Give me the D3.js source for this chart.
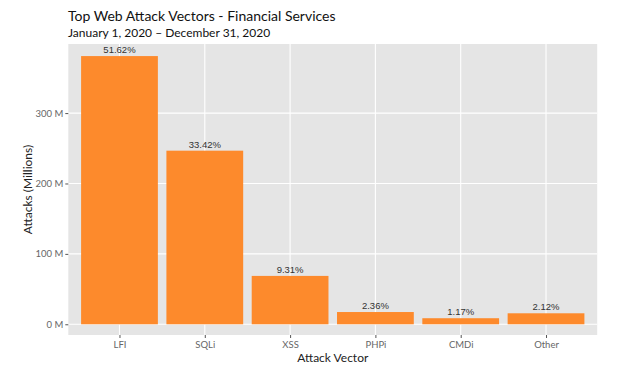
<!DOCTYPE html>
<html><head><meta charset="utf-8">
<script src="https://cdn.jsdelivr.net/npm/d3@7"></script>
<style>
body{margin:0;background:#fff;}
text{font-family:Lato,"Noto Sans",sans-serif;}
</style></head>
<body><svg id="c" width="640" height="376"></svg>
<script>
const categories = ["LFI","SQLi","XSS","PHPi","CMDi","Other"];
const attacksM = [381, 246.6, 68.7, 17.4, 8.6, 15.6];
const pctLabels = ["51.62%","33.42%","9.31%","2.36%","1.17%","2.12%"];
const yTicks = [0,100,200,300];

const svg = d3.select("#c");
const L = 68.3, R = 597.2, T = 44, B = 335;
const maxV = d3.max(attacksM);
const step = (R-L)/(categories.length-1+1.2);
const xc = d3.scalePoint().domain(categories).range([L+0.6*step, R-0.6*step]);
const y = d3.scaleLinear().domain([-0.04*maxV, 1.045*maxV]).range([B,T]);

svg.append("rect").attr("x",L).attr("y",T).attr("width",R-L).attr("height",B-T).attr("fill","#e5e5e5");
svg.append("g").selectAll("line").data(yTicks).join("line")
  .attr("x1",L).attr("x2",R).attr("y1",d=>y(d)).attr("y2",d=>y(d))
  .attr("stroke","#fff").attr("stroke-width",1.1);
svg.append("g").selectAll("line").data(categories).join("line")
  .attr("y1",T).attr("y2",B).attr("x1",d=>xc(d)).attr("x2",d=>xc(d))
  .attr("stroke","#fff").attr("stroke-width",1.1);

const bw = 0.9*step;
svg.append("g").selectAll("rect").data(categories).join("rect")
  .attr("x",d=>xc(d)-bw/2).attr("width",bw)
  .attr("y",(d,i)=>y(attacksM[i])).attr("height",(d,i)=>y(0)-y(attacksM[i]))
  .attr("fill","#fd8a2c");

svg.append("g").selectAll("text").data(categories).join("text")
  .attr("x",d=>xc(d)).attr("y",(d,i)=>y(attacksM[i])-3)
  .attr("text-anchor","middle").attr("font-size",9.5).attr("fill","#333")
  .style("font-family","'Liberation Sans',Arial,sans-serif")
  .text((d,i)=>pctLabels[i]);

// y axis
const ya = svg.append("g").attr("transform",`translate(${L},0)`)
  .call(d3.axisLeft(y).tickValues(yTicks).tickSize(3).tickPadding(2).tickFormat(d=>d+" M"));
ya.select(".domain").remove();
ya.selectAll("line").attr("stroke","#555");
ya.selectAll("text").attr("fill","#666").attr("font-size",9.5).style("font-family","Lato,sans-serif");

// x axis
const xa = svg.append("g").attr("transform",`translate(0,${B})`)
  .call(d3.axisBottom(xc).tickSize(3).tickPadding(3));
xa.select(".domain").remove();
xa.selectAll("line").attr("stroke","#555");
xa.selectAll("text").attr("fill","#666").attr("font-size",9.5).style("font-family","Lato,sans-serif");

svg.append("text").attr("x",(L+R)/2).attr("y",362).attr("text-anchor","middle")
  .attr("font-size",12).attr("fill","#222").text("Attack Vector");
svg.append("text").attr("transform",`translate(32,${(T+B)/2}) rotate(-90)`).attr("text-anchor","middle")
  .attr("font-size",12).attr("fill","#222").text("Attacks (Millions)");

svg.append("text").attr("x",68).attr("y",21).attr("font-size",14).attr("fill","#111")
  .text("Top Web Attack Vectors - Financial Services");
svg.append("text").attr("x",68).attr("y",37).attr("font-size",12).attr("fill","#111")
  .text("January 1, 2020 – December 31, 2020");
</script></body></html>
